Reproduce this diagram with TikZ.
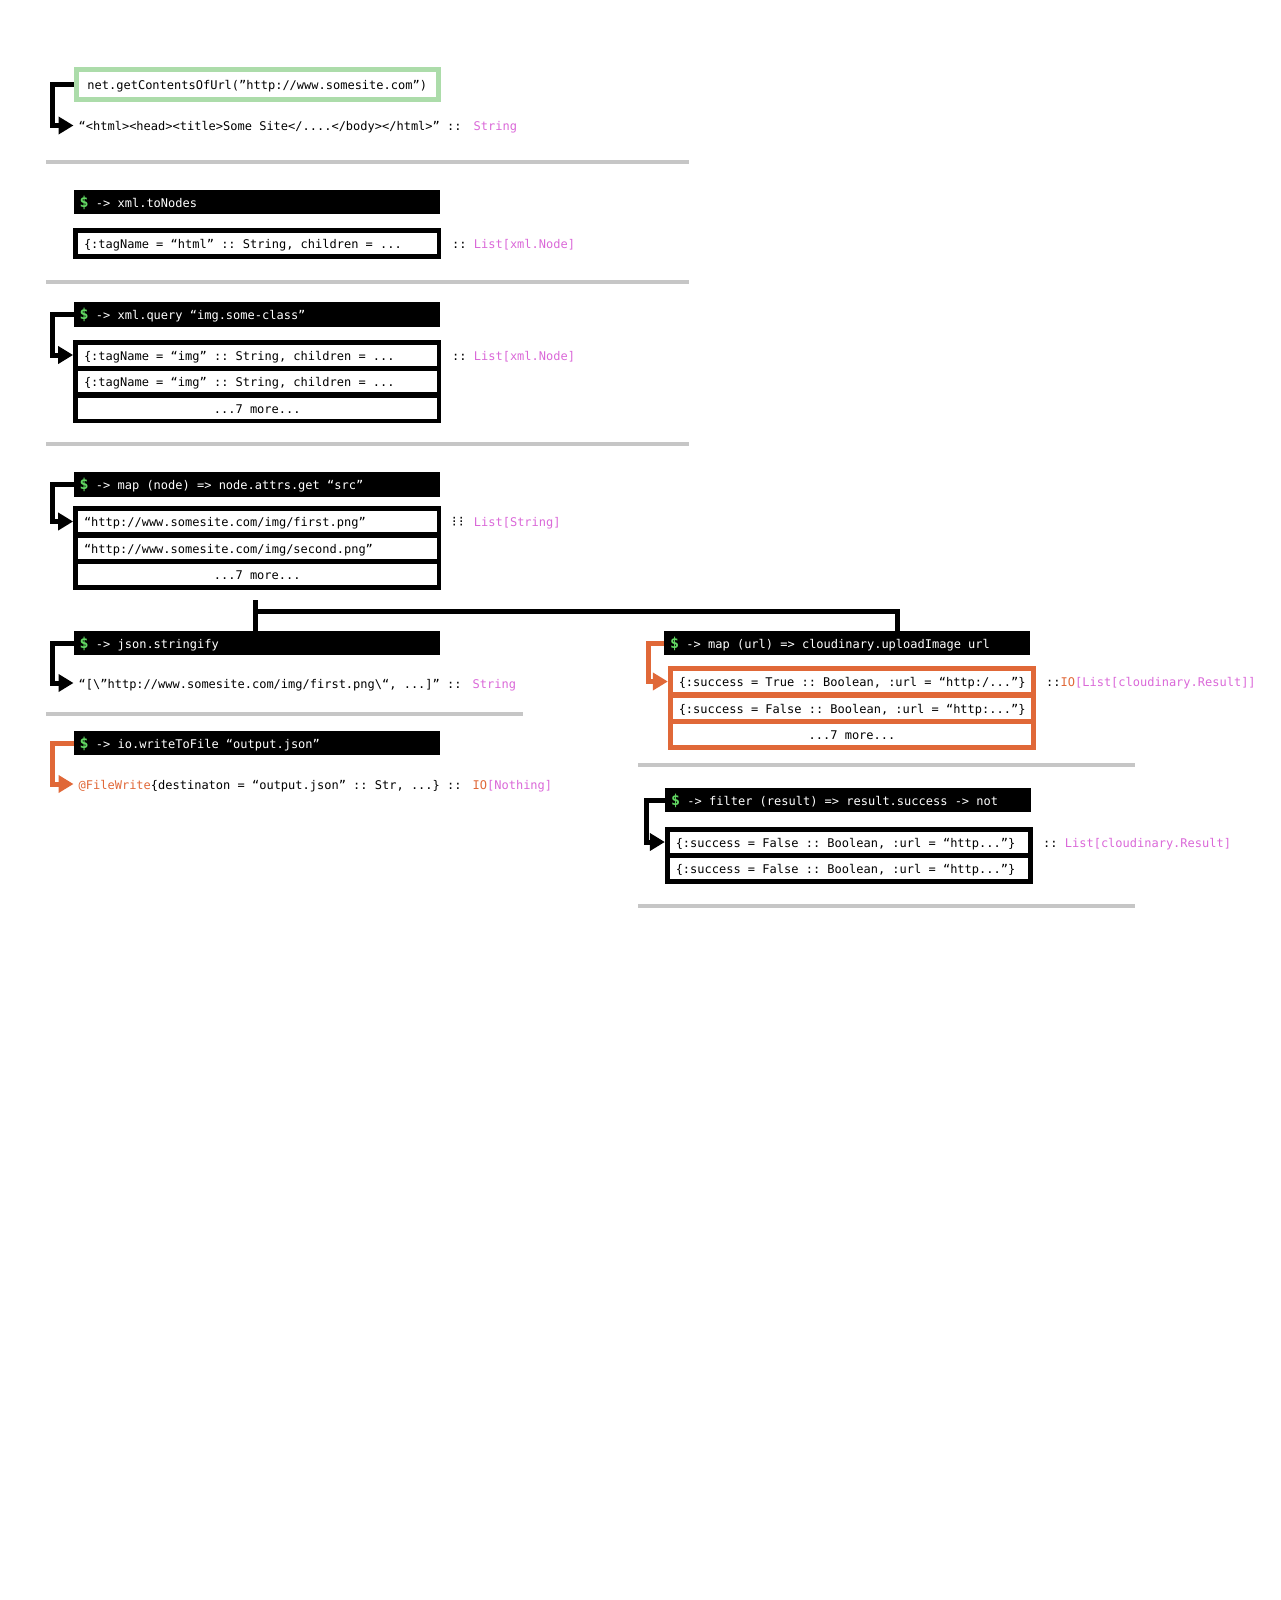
\documentclass[tikz,border=0pt]{standalone}
\usepackage{fontspec}
\setmonofont[WordSpace={1,0,0}]{DejaVu Sans Mono}
\newfontfamily\dotsfont{DejaVu Sans}
\usepackage{xcolor}
\usetikzlibrary{
    arrows.meta,
    positioning,
    fit,
    calc,
    backgrounds
}
\definecolor{urlgreen}{RGB}{172,220,170}
\definecolor{dollargreen}{RGB}{98,216,98}
\definecolor{ioorange}{RGB}{224,104,56}
\definecolor{typepink}{RGB}{218,104,216}
\definecolor{rulegray}{RGB}{198,198,198}
\tikzset{
  code/.style    = {font=\ttfamily\fontsize{12}{14}\selectfont,
                    text height=12.5pt, text depth=2pt},
  hdr/.style     = {code, fill=black, text=white, anchor=west,
                    minimum width=366pt, minimum height=24.5pt, inner sep=0pt},
  row/.style     = {code, fill=white, minimum width=358.5pt, minimum height=21pt,
                    inner sep=0pt},
  listbox/.style = {fill=black, inner sep=4.5pt},
  iobox/.style   = {fill=ioorange, inner sep=4.5pt},
  val/.style     = {code, anchor=west, inner xsep=5pt},
  typ/.style     = {code, anchor=west, inner xsep=0pt},
  brk/.style     = {line width=5pt, -{Triangle[length=15pt,width=17pt]}},
  fork/.style    = {line width=5pt},
  sep/.style     = {line width=4pt, rulegray}
}
\newcommand{\dol}{\textcolor{dollargreen}{\fontsize{15}{14}\selectfont\bfseries\$}}
\newcommand{\ty}[1]{\textcolor{typepink}{#1}}
\newcommand{\io}[1]{\textcolor{ioorange}{#1}}
\newcommand{\hl}[1]{\makebox[354pt][l]{#1}}
\newcommand{\rl}[1]{\makebox[346.5pt][l]{#1}}
\newcommand{\more}{\makebox[346.5pt][c]{...7 more...}}

\begin{document}
\begin{tikzpicture}[x=1pt, y=-1pt]
  \useasboundingbox (0,0) rectangle (1280,1600);

  % fetch the page
  \node[code, draw=urlgreen, line width=5pt, minimum width=362.5pt,
        minimum height=30pt] (url) at (257.25,84.5)
        {net.getContentsOfUrl(”http://www.somesite.com”)};
  \node[val] (html) at (73.5,125.5) {“<html><head><title>Some Site</....</body></html>” ::};
  \node[typ] (t1) at (473.5,125.5) {\ty{String}};
  \draw[brk] (url.west) -- ++(-21,0) |- (html.west);
  \draw[sep] (46,162) -- (689,162);

  % to nodes
  \node[hdr] (h2) at (73.5,202) {\hl{\dol{} -> xml.toNodes}};
  \node[row] (r21) at (257.25,243.5) {\rl{\{:tagName = “html” :: String, children = ...}};
  \begin{scope}[on background layer]
    \node[listbox, fit=(r21)] (b2) {};
  \end{scope}
  \node[typ] (t2) at (452,243.5) {:: \ty{List[xml.Node]}};
  \draw[sep] (46,281.5) -- (689,281.5);

  % query
  \node[hdr] (h3) at (73.5,314.5) {\hl{\dol{} -> xml.query “img.some-class”}};
  \node[row] (r31) at (257.25,355) {\rl{\{:tagName = “img” :: String, children = ...}};
  \node[row] (r32) at (257.25,381.5) {\rl{\{:tagName = “img” :: String, children = ...}};
  \node[row] (r33) at (257.25,408) {\more};
  \begin{scope}[on background layer]
    \node[listbox, fit=(r31)(r33)] (b3) {};
  \end{scope}
  \node[typ] (t3) at (452,355) {:: \ty{List[xml.Node]}};
  \draw[brk] (h3.west) -- ++(-21,0) |- (b3.west |- r31.west);
  \draw[sep] (46,444) -- (689,444);

  % attributes
  \node[hdr] (h4) at (73.5,484.5) {\hl{\dol{} -> map (node) => node.attrs.get “src”}};
  \node[row] (r41) at (257.25,521.5) {\rl{“http://www.somesite.com/img/first.png”}};
  \node[row] (r42) at (257.25,548) {\rl{“http://www.somesite.com/img/second.png”}};
  \node[row] (r43) at (257.25,574.5) {\more};
  \begin{scope}[on background layer]
    \node[listbox, fit=(r41)(r43)] (b4) {};
  \end{scope}
  \node[typ] (t4) at (452,521.5) {\makebox[14.5pt][l]{\dotsfont\fontsize{14}{14}\selectfont ⁝\hspace{2.5pt}⁝} \ty{List[String]}};
  \draw[brk] (h4.west) -- ++(-21,0) |- (b4.west |- r41.west);

  % left branch
  \node[hdr] (h5) at (73.5,643) {\hl{\dol{} -> json.stringify}};
  \node[val] (json) at (73.5,683) {“[\textbackslash”http://www.somesite.com/img/first.png\textbackslash“, ...]” ::};
  \node[typ] (t5) at (472.5,683) {\ty{String}};
  \draw[brk] (h5.west) -- ++(-21,0) |- (json.west);
  \draw[sep] (46,714) -- (523,714);

  \node[hdr] (h6) at (73.5,743) {\hl{\dol{} -> io.writeToFile “output.json”}};
  \node[val] (file) at (73.5,784) {\io{@FileWrite}\{destinaton = “output.json” :: Str, ...\} ::};
  \node[typ] (t6) at (472.5,784) {\io{IO}\ty{[Nothing]}};
  \draw[brk, ioorange] (h6.west) -- ++(-21,0) |- (file.west);

  % right branch
  \node[hdr] (h7) at (664,643) {\hl{\dol{} -> map (url) => cloudinary.uploadImage url}};
  \node[row] (r71) at (852,681.5) {\rl{\{:success = True :: Boolean, :url = “http:/...”\}}};
  \node[row] (r72) at (852,708) {\rl{\{:success = False :: Boolean, :url = “http:...”\}}};
  \node[row] (r73) at (852,734.5) {\more};
  \begin{scope}[on background layer]
    \node[iobox, fit=(r71)(r73)] (b7) {};
  \end{scope}
  \node[typ] (t7) at (1046,681.5) {::\io{IO}\ty{[List[cloudinary.Result]]}};
  \draw[brk, ioorange] (h7.west) -- ++(-16,0) |- (b7.west |- r71.west);
  \draw[sep] (638,765) -- (1135,765);

  \node[hdr] (h8) at (665,800) {\hl{\dol{} -> filter (result) => result.success -> not}};
  \node[row] (r81) at (849,842) {\rl{\{:success = False :: Boolean, :url = “http...”\}}};
  \node[row] (r82) at (849,868.5) {\rl{\{:success = False :: Boolean, :url = “http...”\}}};
  \begin{scope}[on background layer]
    \node[listbox, fit=(r81)(r82)] (b8) {};
  \end{scope}
  \node[typ] (t8) at (1043,842) {:: \ty{List[cloudinary.Result]}};
  \draw[brk] (h8.west) -- ++(-19,0) |- (b8.west |- r81.west);
  \draw[sep] (638,906) -- (1135,906);

  % fork
  \coordinate (split) at (255.5,600);
  \coordinate (turn) at (897,611);
  \draw[fork] (split) -- (split |- h5.north);
  \draw[fork] (split |- turn) -- (turn) -- (turn |- h7.north);
\end{tikzpicture}
\end{document}
